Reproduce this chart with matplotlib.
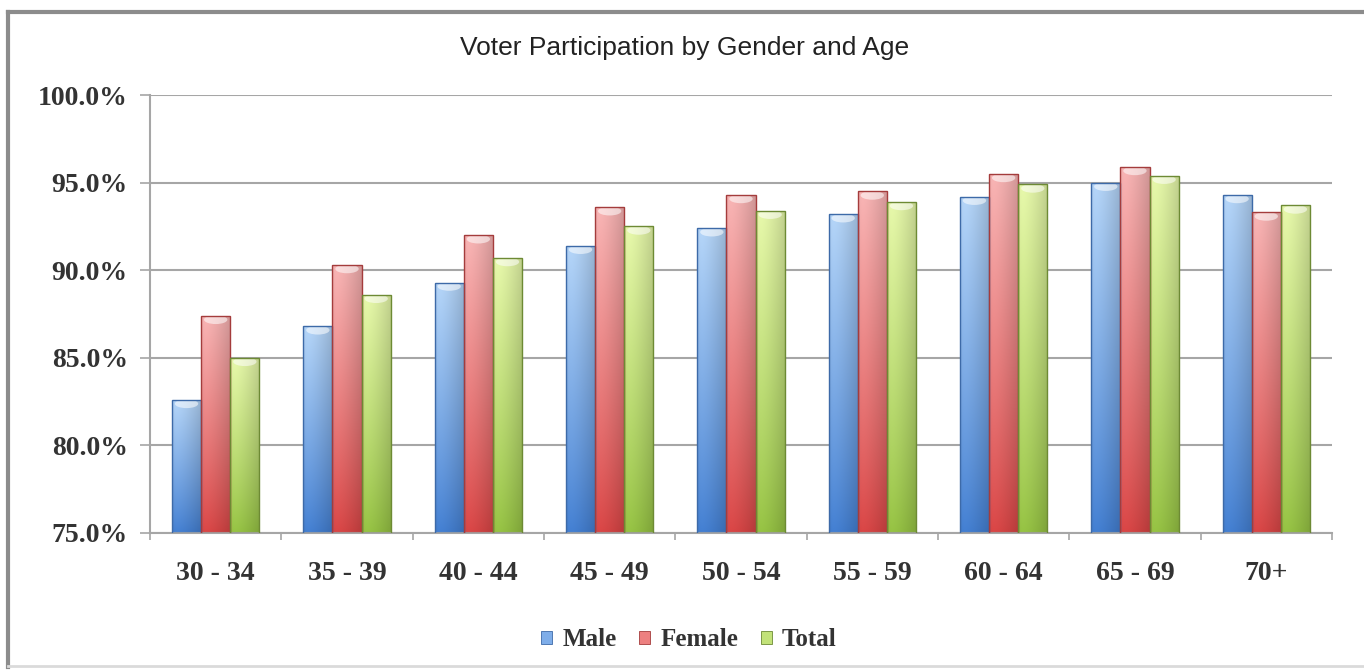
import numpy as np
import matplotlib.pyplot as plt
from matplotlib.patches import Ellipse, Patch
from matplotlib.lines import Line2D
from matplotlib.ticker import FuncFormatter, FixedLocator

age_groups = ["30 - 34", "35 - 39", "40 - 44", "45 - 49", "50 - 54",
              "55 - 59", "60 - 64", "65 - 69", "70+"]
male = [82.6, 86.8, 89.3, 91.4, 92.4, 93.2, 94.2, 95.0, 94.3]
female = [87.4, 90.3, 92.0, 93.6, 94.3, 94.5, 95.5, 95.9, 93.3]
total = [85.0, 88.6, 90.7, 92.5, 93.4, 93.9, 94.9, 95.4, 93.7]

series = [
    ("Male", male, (0.72, 0.85, 0.99), (0.27, 0.51, 0.84), "#3d6aa8"),
    ("Female", female, (0.99, 0.72, 0.72), (0.87, 0.28, 0.28), "#a43c3c"),
    ("Total", total, (0.92, 0.99, 0.68), (0.60, 0.78, 0.27), "#6d8a34"),
]

serif = "Liberation Serif"
text_col = "#333333"

fig = plt.figure(figsize=(13.64, 6.70), dpi=100)
ax = fig.add_axes([0.110, 0.2045, 0.8665, 0.6535])

# outer chart frame: darker top/left edges, faint bottom edge
W, H = 1364, 670
frame = [
    ((8 / W, 1.01), (1 - 12 / H, 1 - 12 / H), "#8c8c8c", 3),
    ((8 / W, 8 / W), (1 - 12 / H, 3 / H), "#8c8c8c", 3),
    ((8 / W, 1.01), (4 / H, 4 / H), "#dadada", 2),
]
for xs, ys, col, lw in frame:
    fig.add_artist(Line2D(xs, ys, transform=fig.transFigure, color=col,
                          linewidth=lw, zorder=0))

x = np.arange(len(age_groups))
width = 0.222


def shaded_bar(rect, light, dark):
    # vertical fade from light top to saturated bottom, darker toward the right edge
    ny, nx = 64, 32
    t = np.linspace(0, 1, ny)[:, None, None] ** 0.9
    img = np.array(dark)[None, None, :] * (1 - t) + np.array(light)[None, None, :] * t
    u = np.linspace(0, 1, nx)
    side = 1 - 0.18 * u ** 1.5 - 0.08 * np.exp(-u / 0.06)
    img = np.clip(img * side[None, :, None], 0, 1)
    x0, y0 = rect.get_x(), rect.get_y()
    w, h = rect.get_width(), rect.get_height()
    im = ax.imshow(img, origin="lower", extent=(x0, x0 + w, y0, y0 + h),
                   aspect="auto", zorder=2, interpolation="bilinear")
    im.set_clip_path(rect)
    cap = Ellipse((x0 + w / 2, y0 + h - 0.22), w * 0.8, 0.5,
                  facecolor="white", edgecolor="none", alpha=0.55, zorder=3)
    ax.add_patch(cap)
    cap.set_clip_path(rect)


handles = []
for i, (name, vals, light, dark, edge) in enumerate(series):
    bottoms = [75] * len(vals)
    heights = [v - 75 for v in vals]
    bars = ax.bar(x + (i - 1) * width, heights, width, bottom=bottoms,
                  facecolor="none", edgecolor=edge, linewidth=1.0, zorder=4)
    for rect in bars:
        shaded_bar(rect, light, dark)
    handles.append(Patch(facecolor=tuple((np.array(light) + np.array(dark)) / 2),
                         edgecolor=edge, linewidth=0.6, label=name))

ax.set_xlim(-0.5, len(age_groups) - 0.5)
ax.set_ylim(75, 100)
ax.set_yticks(np.arange(75, 100.1, 5))
ax.yaxis.set_major_formatter(FuncFormatter(lambda v, p: f"{v:.1f}%"))
ax.grid(axis="y", color="#a6a6a6", linewidth=1.5, zorder=0)
ax.set_axisbelow(True)

ax.set_xticks(x)
ax.set_xticklabels(age_groups)
ax.xaxis.set_minor_locator(FixedLocator(np.arange(-0.5, len(age_groups), 1)))
ax.tick_params(axis="x", which="major", length=0, pad=20)
ax.tick_params(axis="x", which="minor", length=5, color="#a6a6a6", width=1.2)
ax.tick_params(axis="y", length=7, color="#a6a6a6", width=1.2, pad=9)
for lab in ax.get_xticklabels() + ax.get_yticklabels():
    lab.set_fontfamily(serif)
    lab.set_fontweight("bold")
    lab.set_fontsize(20)
    lab.set_color(text_col)

for side in ("top", "right"):
    ax.spines[side].set_visible(False)
for side in ("left", "bottom"):
    ax.spines[side].set_color("#a6a6a6")
    ax.spines[side].set_linewidth(1.5)

fig.text(0.502, 0.928, "Voter Participation by Gender and Age",
         ha="center", va="center", fontsize=19, family="Liberation Sans",
         color="#222222")

fig.legend(handles=handles, loc="center", bbox_to_anchor=(0.505, 0.045),
           ncol=3, frameon=False, handlelength=0.45, handleheight=0.45,
           handletextpad=0.4, columnspacing=0.9,
           prop={"family": serif, "weight": "bold", "size": 18})
for t in fig.legends[0].get_texts():
    t.set_color(text_col)

fig.savefig("out.png", dpi=100)
